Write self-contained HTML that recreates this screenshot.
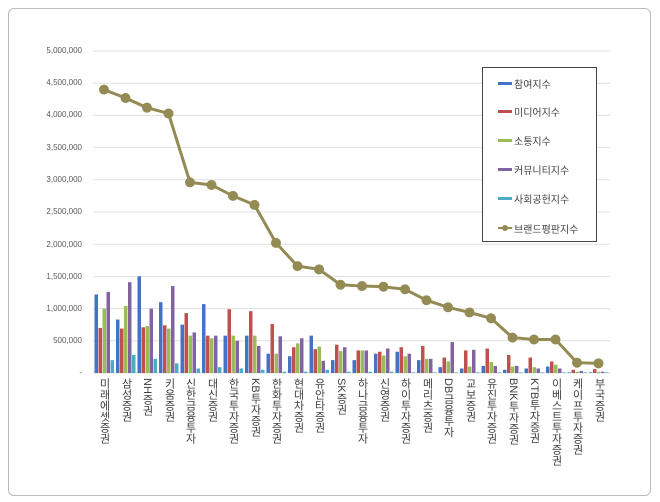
<!DOCTYPE html>
<html><head><meta charset="utf-8"><style>
body{margin:0;width:660px;height:502px;background:#fff;font-family:"Liberation Sans","Noto Sans CJK KR",sans-serif;position:relative;overflow:hidden}
.frame{position:absolute;left:8px;top:8px;width:641px;height:486px;border:1px solid #bbb;border-radius:6px}
.yl{position:absolute;width:80px;text-align:right;left:2px;font-size:8px;color:#595959}
.xl{position:absolute;top:378px;writing-mode:vertical-rl;font-size:11px;color:#404040;line-height:12px;letter-spacing:0px}
.leg{position:absolute;left:482px;top:67px;width:113px;height:173px;border:1px solid #444;background:#fff}
.li{position:absolute;left:31px;font-size:10px;color:#404040}
.sw{position:absolute;left:15px;width:14px;height:3px}
</style></head><body>
<div class="frame"></div>
<svg id="s" width="660" height="502" style="position:absolute;left:0;top:0"></svg>
<div class="yl" style="top:46px">5,000,000</div>
<div class="yl" style="top:78px">4,500,000</div>
<div class="yl" style="top:110px">4,000,000</div>
<div class="yl" style="top:143px">3,500,000</div>
<div class="yl" style="top:175px">3,000,000</div>
<div class="yl" style="top:207px">2,500,000</div>
<div class="yl" style="top:240px">2,000,000</div>
<div class="yl" style="top:272px">1,500,000</div>
<div class="yl" style="top:304px">1,000,000</div>
<div class="yl" style="top:336px">500,000</div>
<div class="yl" style="top:368px">-</div>
<div id="labels">
<div class="xl" style="left:98px">미래에셋증권</div>
<div class="xl" style="left:120px">삼성증권</div>
<div class="xl" style="left:141px">NH증권</div>
<div class="xl" style="left:163px">키움증권</div>
<div class="xl" style="left:184px">신한금융투자</div>
<div class="xl" style="left:206px">대신증권</div>
<div class="xl" style="left:227px">한국투자증권</div>
<div class="xl" style="left:249px">KB투자증권</div>
<div class="xl" style="left:270px">한화투자증권</div>
<div class="xl" style="left:292px">현대차증권</div>
<div class="xl" style="left:313px">유안타증권</div>
<div class="xl" style="left:335px">SK증권</div>
<div class="xl" style="left:356px">하나금융투자</div>
<div class="xl" style="left:378px">신영증권</div>
<div class="xl" style="left:399px">하이투자증권</div>
<div class="xl" style="left:421px">메리츠증권</div>
<div class="xl" style="left:442px">DB금융투자</div>
<div class="xl" style="left:464px">교보증권</div>
<div class="xl" style="left:485px">유진투자증권</div>
<div class="xl" style="left:507px">BNK투자증권</div>
<div class="xl" style="left:528px">KTB투자증권</div>
<div class="xl" style="left:550px">이베스트투자증권</div>
<div class="xl" style="left:571px">케이프투자증권</div>
<div class="xl" style="left:593px">부국증권</div>
</div>
<div class="leg">
<div class="sw" style="top:14px;background:#4472C4"></div><div class="li" style="top:8px">참여지수</div>
<div class="sw" style="top:42px;background:#C0504D"></div><div class="li" style="top:36px">미디어지수</div>
<div class="sw" style="top:71px;background:#9BBB59"></div><div class="li" style="top:65px">소통지수</div>
<div class="sw" style="top:100px;background:#8064A2"></div><div class="li" style="top:94px">커뮤니티지수</div>
<div class="sw" style="top:129px;background:#4BACC6"></div><div class="li" style="top:123px">사회공헌지수</div>
<div class="sw" style="top:159px;height:2px;background:#948A54"></div><div style="position:absolute;left:19px;top:157px;width:6px;height:6px;border-radius:50%;background:#948A54"></div><div class="li" style="top:153px">브랜드평판지수</div>
</div>
<script>
var d=[[1.22,.70,1.0,1.26,.2,4.4],[.83,.69,1.04,1.41,.28,4.27],[1.5,.71,.73,1.0,.22,4.12],[1.1,.74,.69,1.35,.15,4.03],[.75,.93,.58,.63,.07,2.96],[1.07,.58,.54,.58,.09,2.92],[.58,.99,.58,.5,.07,2.75],[.58,.96,.58,.42,.05,2.61],[.3,.76,.3,.57,.02,2.02],[.26,.4,.46,.54,.02,1.66],[.58,.37,.41,.19,.05,1.61],[.2,.44,.34,.4,.02,1.37],[.2,.35,.35,.35,.02,1.35],[.3,.33,.27,.38,.02,1.34],[.33,.4,.26,.3,.01,1.30],[.2,.42,.22,.22,.01,1.13],[.09,.24,.18,.48,.01,1.02],[.07,.35,.1,.36,.01,.94],[.11,.38,.17,.11,.01,.85],[.05,.28,.1,.11,.01,.55],[.07,.24,.09,.07,.01,.52],[.1,.18,.13,.07,.01,.52],[.01,.05,.02,.03,.01,.16],[.01,.06,.02,.02,.01,.15]];
var c=["#4472C4","#C0504D","#9BBB59","#8064A2","#4BACC6"];
var y0=373,k=64.4,h='';
for(var g=0;g<=10;g++){var y=51+g*32.2;h+='<line x1="93" x2="610" y1="'+y+'" y2="'+y+'" stroke="#e0e0e0" stroke-width="1"/>';}
var pts=[];
d.forEach(function(r,i){var cx=104+i*21.5;for(var j=0;j<5;j++){var hh=r[j]*k;h+='<rect x="'+(cx-9.5+j*4)+'" y="'+(y0-hh)+'" width="3.5" height="'+hh+'" fill="'+c[j]+'"/>';}pts.push(cx+','+(y0-r[5]*k));});
h+='<polyline points="'+pts.join(' ')+'" fill="none" stroke="#948A54" stroke-width="3"/>';
pts.forEach(function(p){var a=p.split(',');h+='<circle cx="'+a[0]+'" cy="'+a[1]+'" r="5" fill="#948A54"/>';});
document.getElementById('s').innerHTML=h;
</script>
</body></html>
